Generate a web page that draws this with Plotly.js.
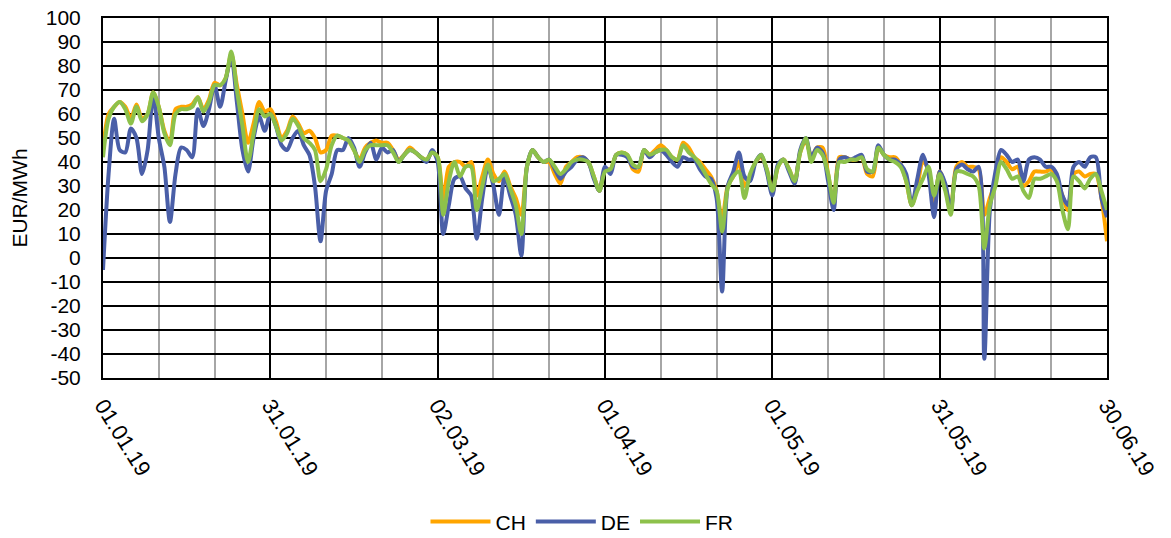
<!DOCTYPE html>
<html>
<head>
<meta charset="utf-8">
<script src="https://cdn.plot.ly/plotly-3.0.1.min.js"></script>
<style>
  html, body { margin: 0; padding: 0; background: #ffffff; }
  #chart { width: 1171px; height: 538px; }
</style>
</head>
<body>
<div id="chart"></div>
<script>
// Daily prices, 01.01.2019 .. 30.06.2019 (181 days)
const startDate = '2019-01-01';
const dayCount = 181;

const seriesNames = ['CH', 'DE', 'FR'];

const CH = [
  45, 60, 63, 65, 63, 58, 64, 58, 60, 69,
  63, 53, 48, 62, 63, 63, 64, 67, 62, 66,
  73, 72, 75, 85, 72, 60, 48, 56, 65, 61,
  62, 57, 50, 53, 59, 56, 52, 53, 50, 44,
  45, 51, 51, 50, 49, 45, 41, 46, 48, 49,
  48, 48, 45, 41, 43, 46, 44, 42, 41, 44,
  42, 24, 38, 40, 40, 38, 40, 26, 34, 41,
  35, 32, 36, 30, 25, 18, 38, 45, 42, 40,
  40, 35, 31, 38, 40, 42, 42, 40, 34, 28,
  37, 37, 43, 44, 43, 37, 36, 45, 43, 45,
  47, 45, 42, 41, 48, 46, 42, 40, 37, 34,
  28, 16, 30, 34, 40, 30, 34, 40, 42, 37,
  27, 38, 41, 37, 32, 44, 49, 42, 46, 46,
  35, 22, 42, 42, 41, 41, 42, 35, 34, 46,
  43, 42, 42, 39, 32, 22, 30, 40, 37, 22,
  36, 30, 21, 38, 40, 38, 38, 37, 18, 25,
  32, 42, 40, 37, 38, 30, 32, 36, 36, 36,
  37, 33, 26, 20, 35, 36, 34, 35, 35, 25,
  7
];

const DE = [
  -5, 35, 58, 45, 44, 54, 50, 35, 45, 68,
  50, 38, 15, 35, 46, 45, 42, 62, 55, 62,
  72, 63, 74, 84, 65, 45, 36, 50, 59, 53,
  60, 55, 47, 45, 50, 53, 47, 43, 30, 7,
  28, 35, 45, 45, 50, 46, 38, 44, 48, 41,
  46, 44, 45, 40, 43, 45, 44, 42, 40, 45,
  40, 10, 22, 33, 34, 29, 26, 8, 25, 38,
  30, 18, 34, 26, 18, 1, 38, 45, 42, 40,
  41, 37, 33, 36, 38, 41, 42, 40, 33, 28,
  38, 35, 43, 43, 42, 38, 38, 45, 42, 44,
  45, 43, 40, 38, 42, 41, 41, 37, 34, 33,
  25, -14, 30, 36, 44, 34, 32, 40, 43, 36,
  26, 39, 41, 36, 31, 45, 50, 42, 46, 44,
  32, 20, 41, 42, 41, 42, 43, 36, 36, 47,
  43, 41, 41, 39, 35, 22, 33, 43, 35, 17,
  36, 31, 20, 37, 39, 37, 36, 38, -42, 20,
  36, 45, 43, 40, 41, 32, 41, 42, 41, 38,
  38, 35, 26, 22, 38, 40, 38, 42, 42, 25,
  17
];

const FR = [
  42, 58, 63, 65, 62, 56, 63, 57, 60, 69,
  63, 52, 47, 60, 62, 62, 63, 67, 61, 65,
  72, 72, 75, 86, 70, 55, 40, 52, 62, 59,
  60, 55, 49, 52, 58, 55, 50, 48, 45, 32,
  37, 47, 51, 50, 49, 45, 40, 45, 47, 47,
  47, 47, 44, 40, 43, 45, 44, 42, 41, 44,
  42, 18, 32, 40, 34, 38, 38, 20, 30, 39,
  32, 33, 35, 29, 22, 10, 38, 45, 42, 40,
  41, 38, 35, 37, 40, 41, 41, 40, 34, 28,
  36, 37, 43, 44, 43, 39, 38, 45, 43, 44,
  45, 45, 42, 41, 47, 44, 42, 39, 35, 31,
  28, 11, 29, 34, 36, 25, 35, 40, 43, 37,
  28, 38, 41, 37, 32, 44, 50, 40, 45, 43,
  35, 23, 40, 40, 41, 41, 42, 37, 36, 46,
  43, 41, 40, 38, 32, 22, 28, 33, 38, 26,
  35, 28, 18, 36, 36, 35, 34, 30, 4, 22,
  30, 40, 37, 33, 34, 28, 25, 33, 33, 34,
  35, 32, 20, 12, 34, 32, 29, 33, 35, 28,
  20
];

const tickDates = ['2019-01-01', '2019-01-31', '2019-03-02', '2019-04-01', '2019-05-01', '2019-05-31', '2019-06-30'];
const tickLabels = ['01.01.19', '31.01.19', '02.03.19', '01.04.19', '01.05.19', '31.05.19', '30.06.19'];
const yTickVals = [-50, -40, -30, -20, -10, 0, 10, 20, 30, 40, 50, 60, 70, 80, 90, 100];
const yTickLabels = ['-50', '-40', '-30', '-20', '-10', '0', '10', '20', '30', '40', '50', '60', '70', '80', '90', '100'];

const colors = ['#FFA500', '#4A5FA8', '#8DC14B'];

// build date categories
const dates = [];
const d0 = new Date(startDate + 'T00:00:00Z');
for (let i = 0; i < dayCount; i++) {
  const d = new Date(d0.getTime() + i * 86400000);
  dates.push(d.toISOString().slice(0, 10));
}

const values = [CH, DE, FR];
const traces = seriesNames.map((name, i) => ({
  type: 'scatter',
  mode: 'lines',
  name: name,
  x: dates,
  y: values[i],
  line: { color: colors[i], width: 4, shape: 'spline', smoothing: 0.8 },
  hoverinfo: 'x+y+name'
}));

const font = { family: 'Liberation Sans, Arial, sans-serif', size: 21, color: '#000000' };
const xFont = { family: 'Liberation Sans, Arial, sans-serif', size: 22, color: '#000000' };

const layout = {
  width: 1171,
  height: 538,
  margin: { l: 103, r: 64, t: 18, b: 160, autoexpand: false },
  paper_bgcolor: '#ffffff',
  plot_bgcolor: '#ffffff',
  font: font,
  showlegend: true,
  legend: {
    orientation: 'h',
    xref: 'container', yref: 'container',
    x: 0.497, xanchor: 'center',
    y: 0.03, yanchor: 'middle',
    font: font,
    itemwidth: 60,
    traceorder: 'normal'
  },
  xaxis: {
    type: 'date',
    automargin: false,
    range: ['2019-01-01', '2019-06-30'],
    tickmode: 'array',
    tickvals: tickDates,
    ticktext: tickLabels,
    tickangle: 58,
    tickfont: xFont,
    ticks: '',
    ticklabelstandoff: 4,
    showgrid: true,
    gridcolor: '#000000',
    gridwidth: 2,
    minor: {
      dtick: 10 * 86400000,
      tick0: '2019-01-01',
      showgrid: true,
      gridcolor: '#A6A6A6',
      gridwidth: 2
    },
    showline: true,
    linecolor: '#000000',
    linewidth: 2,
    mirror: true,
    zeroline: false,
    fixedrange: true
  },
  yaxis: {
    automargin: false,
    range: [-50, 100],
    tickmode: 'array',
    tickvals: yTickVals,
    ticktext: yTickLabels,
    tickfont: font,
    ticks: '',
    ticklabelstandoff: 16,
    showgrid: true,
    gridcolor: '#000000',
    gridwidth: 2,
    zeroline: false,
    showline: true,
    linecolor: '#000000',
    linewidth: 2,
    mirror: true,
    title: { text: 'EUR/MWh', font: font, standoff: 12 },
    fixedrange: true
  }
};

Plotly.newPlot('chart', traces, layout, { displayModeBar: false, staticPlot: true });
</script>
</body>
</html>
